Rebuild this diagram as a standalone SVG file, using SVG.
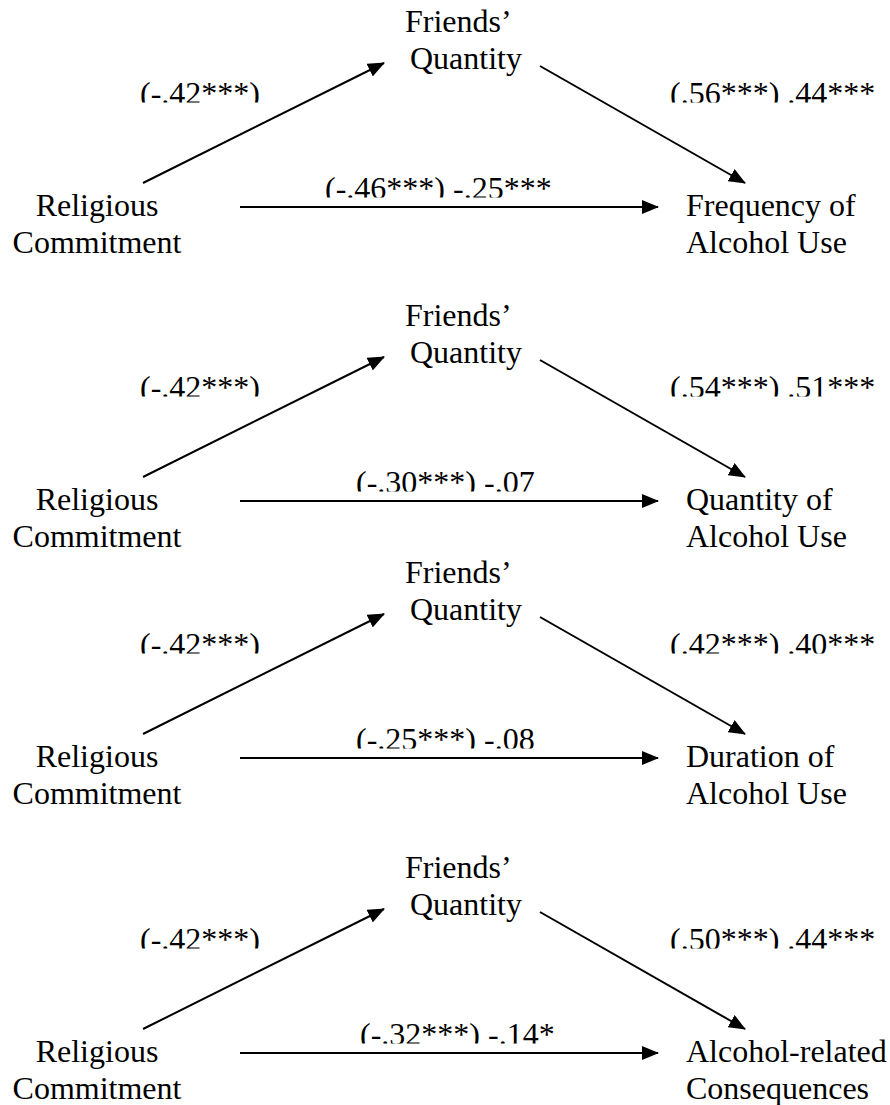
<svg xmlns="http://www.w3.org/2000/svg" width="890" height="1105" viewBox="0 0 890 1105">
<defs>
<style>
text{font-family:"Liberation Serif","Times New Roman",serif;font-size:32px;fill:#000}
.m{text-anchor:middle}
.c{stroke:#000;stroke-width:2;fill:none;marker-end:url(#ah)}
.ls{clip-path:url(#clipSide)}
.lm{clip-path:url(#clipMid)}
</style>
<marker id="ah" viewBox="0 0 17 14" refX="16" refY="7" markerWidth="17" markerHeight="14" markerUnits="userSpaceOnUse" orient="auto"><path d="M0,0 L17,7 L0,14 z" fill="#000"/></marker>
<clipPath id="clipSide" clipPathUnits="userSpaceOnUse"><rect x="0" y="-50" width="890" height="152.5"/></clipPath>
<clipPath id="clipMid" clipPathUnits="userSpaceOnUse"><rect x="0" y="100" width="890" height="97.5"/></clipPath>
</defs>
<rect width="890" height="1105" fill="#fff"/>

<g id="connectors">
<g transform="translate(0,0)"><path class="c" d="M143,183 L384,63"/><path class="c" d="M540,66 L745,183"/><path class="c" d="M240,207 L658,207"/></g>
<g transform="translate(0,294)"><path class="c" d="M143,183 L384,63"/><path class="c" d="M540,66 L745,183"/><path class="c" d="M240,207 L658,207"/></g>
<g transform="translate(0,551)"><path class="c" d="M143,183 L384,63"/><path class="c" d="M540,66 L745,183"/><path class="c" d="M240,207 L658,207"/></g>
<g transform="translate(0,846)"><path class="c" d="M143,183 L384,63"/><path class="c" d="M540,66 L745,183"/><path class="c" d="M240,207 L658,207"/></g>
</g>

<g id="labels">
<g transform="translate(0,0)"><text class="ls" x="140" y="104">(-.42***)</text><text class="ls" x="670" y="104">(.56***) .44***</text><text class="lm" x="325" y="199">(-.46***) -.25***</text></g>
<g transform="translate(0,294)"><text class="ls" x="140" y="104">(-.42***)</text><text class="ls" x="670" y="104">(.54***) .51***</text><text class="lm" x="356" y="199">(-.30***) -.07</text></g>
<g transform="translate(0,551)"><text class="ls" x="140" y="104">(-.42***)</text><text class="ls" x="670" y="104">(.42***) .40***</text><text class="lm" x="356" y="199">(-.25***) -.08</text></g>
<g transform="translate(0,846)"><text class="ls" x="140" y="104">(-.42***)</text><text class="ls" x="670" y="104">(.50***) .44***</text><text class="lm" x="360" y="199">(-.32***) -.14*</text></g>
</g>

<g id="p1-religious" transform="translate(0,0)"><text class="m" x="97" y="216">Religious</text><text class="m" x="97" y="253">Commitment</text></g>
<g id="p1-friends" transform="translate(0,0)"><text x="405" y="32">Friends’</text><text x="410" y="69">Quantity</text></g>
<g id="p1-outcome" transform="translate(0,0)"><text x="686" y="216">Frequency of</text><text x="686" y="253">Alcohol Use</text></g>

<g id="p2-religious" transform="translate(0,294)"><text class="m" x="97" y="216">Religious</text><text class="m" x="97" y="253">Commitment</text></g>
<g id="p2-friends" transform="translate(0,294)"><text x="405" y="32">Friends’</text><text x="410" y="69">Quantity</text></g>
<g id="p2-outcome" transform="translate(0,294)"><text x="686" y="216">Quantity of</text><text x="686" y="253">Alcohol Use</text></g>

<g id="p3-religious" transform="translate(0,551)"><text class="m" x="97" y="216">Religious</text><text class="m" x="97" y="253">Commitment</text></g>
<g id="p3-friends" transform="translate(0,551)"><text x="405" y="32">Friends’</text><text x="410" y="69">Quantity</text></g>
<g id="p3-outcome" transform="translate(0,551)"><text x="686" y="216">Duration of</text><text x="686" y="253">Alcohol Use</text></g>

<g id="p4-religious" transform="translate(0,846)"><text class="m" x="97" y="216">Religious</text><text class="m" x="97" y="253">Commitment</text></g>
<g id="p4-friends" transform="translate(0,846)"><text x="405" y="32">Friends’</text><text x="410" y="69">Quantity</text></g>
<g id="p4-outcome" transform="translate(0,846)"><text x="686" y="216">Alcohol-related</text><text x="686" y="253">Consequences</text></g>
</svg>
